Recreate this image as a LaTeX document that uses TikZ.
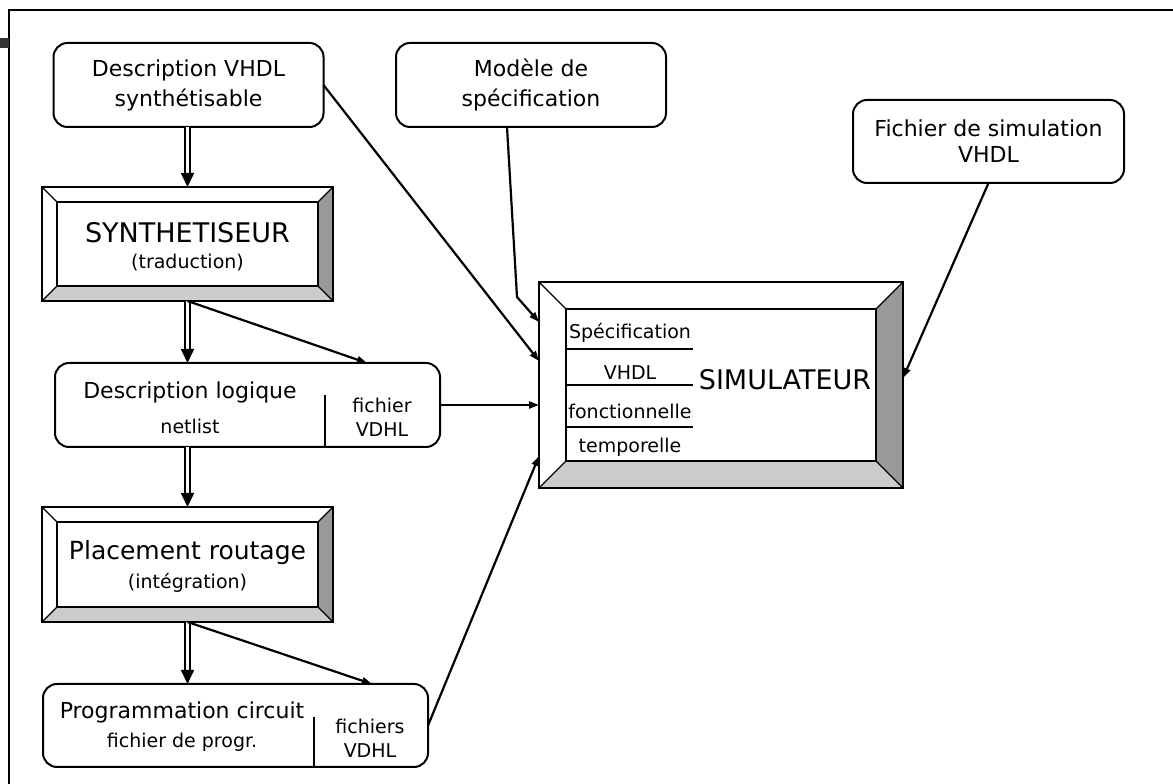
\documentclass[tikz,border=0pt]{standalone}
\usepackage{fontspec}
\setmainfont{DejaVu Sans}
\usetikzlibrary{arrows.meta, calc, positioning}

\newcommand{\bigtxt}{\fontsize{27}{30}\selectfont}
\newcommand{\midtxt}{\fontsize{25}{30}\selectfont}
\newcommand{\normtxt}{\fontsize{22}{30}\selectfont}
\newcommand{\smalltxt}{\fontsize{19}{26}\selectfont}

% bevel frame drawn round a node: #1 node name, #2 depth
\newcommand{\bevel}[2]{%
  \fill[gray!80] (#1.north east) -- (#1.south east) -- ++(-#2,#2) -- ($(#1.north east)+(-#2,-#2)$) -- cycle;
  \fill[gray!40] (#1.south west) -- (#1.south east) -- ++(-#2,#2) -- ($(#1.south west)+(#2,#2)$) -- cycle;
  \draw[line width=1.6pt] ($(#1.south west)+(#2,#2)$) rectangle ($(#1.north east)+(-#2,-#2)$);
  \draw[line width=1.3pt] (#1.north west) -- ++(#2,-#2) (#1.north east) -- ++(-#2,-#2)
    (#1.south west) -- ++(#2,#2) (#1.south east) -- ++(-#2,#2);
  \draw[line width=2pt] (#1.south west) rectangle (#1.north east);
}

\tikzset{
  roundbox/.style={draw, line width=2pt, rounded corners=14pt, outer sep=0pt,
    minimum width=270pt, minimum height=84pt, align=center, font=\normtxt},
  bevelbox/.style={outer sep=0pt, inner sep=0pt, align=center},
  dblarrow/.style={double, double distance=3pt, line width=1.7pt,
    -{Triangle[length=14pt,width=13pt]}},
  flow/.style={line width=2.2pt, -{Triangle[length=10pt,width=7pt]}},
  sep/.style={line width=1.6pt},
}

\begin{document}
\begin{tikzpicture}[x=1pt, y=1pt]
  \useasboundingbox (0,0) rectangle (1173,784);

  % page frame
  \draw[line width=1.8pt] (9,0) -- (9,774) -- (1173,774);
  \fill[black!80] (0,736) rectangle (9,746);

  % input files
  \node[roundbox] (desc) at (188.5,699) {Description VHDL\\synthétisable};
  \node[roundbox] (modele) at (531,699) {Modèle de\\spécification};
  \node[roundbox, minimum width=271pt, minimum height=83pt] (fichsim) at (988.5,642.5)
    {Fichier de simulation\\[-4pt]VHDL};

  % synthesis
  \node[bevelbox, minimum width=291pt, minimum height=114pt] (synth) at (187.5,540) {};
  \bevel{synth}{15}
  \node (synthT) at (187.5,551) {\bigtxt SYNTHETISEUR};
  \node (synthS) at (187.5,521) {\smalltxt (traduction)};

  % netlist
  \node[roundbox, minimum width=385pt] (desclog) at (247.5,379) {};
  \node (logT) at (190,392) {\normtxt Description logique};
  \node (logS) at (190,358) {\smalltxt netlist};
  \node[align=center, font=\smalltxt] (logF) at (382,367) {fichier\\[-2pt]VDHL};
  \draw[sep] (325,389) -- (325 ,337);

  % place and route
  \node[bevelbox, minimum width=291pt, minimum height=115pt] (placement) at (187.5,219.5) {};
  \bevel{placement}{15}
  \node (placeT) at (187.5,231) {\midtxt Placement routage};
  \node (placeS) at (187.5,201) {\smalltxt (intégration)};

  % programming
  \node[roundbox, minimum width=385pt, minimum height=83pt] (prog) at (235.5,58.5) {};
  \node (progT) at (182,72) {\normtxt Programmation circuit};
  \node (progS) at (182,42) {\smalltxt fichier de progr.};
  \node[align=center, font=\smalltxt] (progF) at (370,46) {fichiers\\[-2pt]VDHL};
  \draw[line width=2.6pt] (314,67) -- (314,17);

  % simulator
  \node[bevelbox, minimum width=364pt, minimum height=206pt] (simul) at (721,399) {};
  \bevel{simul}{27}
  \node (simT) at (785,404) {\bigtxt SIMULATEUR};
  \node (spec) at (630,451) {\smalltxt Spécification};
  \node (vhdl) at (630,411) {\smalltxt VHDL};
  \node (fonc) at (630,373) {\smalltxt fonctionnelle};
  \node (temp) at (630,337) {\smalltxt temporelle};
  \draw[sep] (567,435) -- (693,435);
  \draw[sep] (567,399) -- (693,399);
  \draw[sep] (567,357) -- (693,357);

  % free ends of the connectors
  \coordinate (netin) at (367,421);
  \coordinate (progin) at (372,100);
  \coordinate (modout) at (507,657);
  \coordinate (modbend) at (517,487);
  \coordinate (simA) at (539,462);
  \coordinate (simB) at (539,423);
  \coordinate (simD) at (539,328);
  \coordinate (simE) at (903,406);

  % design flow
  \draw[dblarrow] (desc.south -| synth.north) -- (synth.north);
  \draw[dblarrow] (synth.south) -- (synth.south |- desclog.north);
  \draw[dblarrow] (placement.north |- desclog.south) -- (placement.north);
  \draw[dblarrow] (placement.south) -- (placement.south |- prog.north);
  \draw[flow] (synth.south) -- (netin);
  \draw[flow] (placement.south) -- (progin);

  % to the simulator
  \draw[flow] (desc.east) -- (simB);
  \draw[flow] (modout) -- (modbend) -- (simA);
  \draw[flow] (desclog.east) -- (desclog.east -| simul.west);
  \draw[flow] (prog.east) -- (simD);
  \draw[flow] (fichsim.south) -- (simE);
\end{tikzpicture}
\end{document}
